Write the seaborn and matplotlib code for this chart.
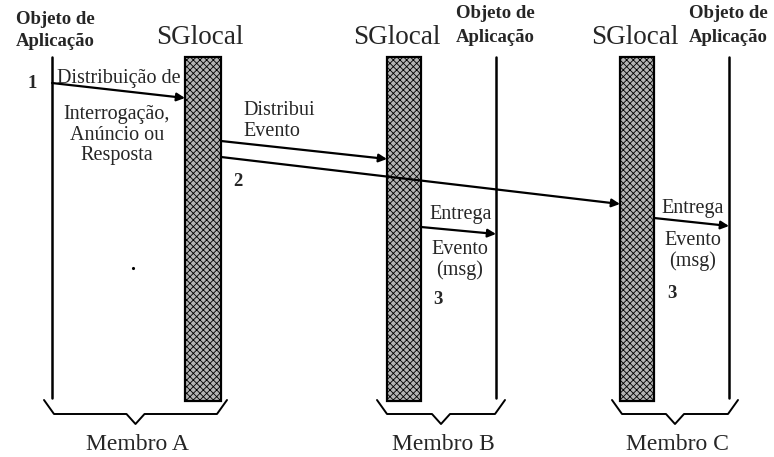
import numpy as np
import pandas as pd
import matplotlib
matplotlib.use('Agg')
import matplotlib.pyplot as plt
from matplotlib.patches import Rectangle
import seaborn as sns

# labels
members = ["Membro A", "Membro B", "Membro C"]
layer_label = "SGlocal"
app_label = ["Objeto de", "Aplicação"]
step_labels = ["1", "2", "3", "3"]
msg_labels = ["Distribuição de", "Interrogação,\nAnúncio ou\nResposta",
              "Distribui\nEvento", "Entrega", "Evento\n(msg)"]

# layout (pixel space, y grows downward)
app_x = [52, 496, 729]
bar_x = [(185, 221), (387, 421), (620, 654)]
life_top, bar_bottom, line_bottom = 57, 401, 398
brace_span = [(44, 227), (377, 505), (612, 738)]

# messages: (x0, y0, x1, y1)
msgs = [
    (52, 83, 185, 98),
    (221, 141, 387, 159),
    (221, 157, 620, 204),
    (421, 227, 496, 234),
    (654, 218, 729, 226),
]

sns.set_theme(style="white")
plt.rcParams['font.family'] = ['Liberation Serif', 'DejaVu Serif']
plt.rcParams['hatch.linewidth'] = 0.6

fig = plt.figure(figsize=(7.74, 4.57), dpi=100)
ax = fig.add_axes([0, 0, 1, 1])

# application lifelines
lines = pd.DataFrame({
    "x": [v for v in app_x for _ in range(2)],
    "y": [life_top, line_bottom] * len(app_x),
    "member": [m for m in members for _ in range(2)],
})
sns.lineplot(data=lines, x="x", y="y", units="member", estimator=None,
             sort=False, color="black", lw=1.8, ax=ax, legend=False)
ax.set_xlim(0, 774)
ax.set_ylim(457, 0)
ax.axis('off')

# SGlocal bars
for x0, x1 in bar_x:
    ax.add_patch(Rectangle((x0, life_top), x1 - x0, bar_bottom - life_top,
                           facecolor="#b4b4b4", edgecolor="black",
                           hatch="xxxxx", lw=1.6))

# messages
for x0, y0, x1, y1 in msgs:
    ax.annotate("", xy=(x1, y1), xytext=(x0, y0),
                arrowprops=dict(arrowstyle="-|>", color="black", lw=1.6,
                                mutation_scale=12, shrinkA=0, shrinkB=0))

# braces
for (bl, br), name in zip(brace_span, members):
    mid = (bl + br) / 2
    bx = [bl, bl + 10, mid - 9, mid, mid + 9, br - 10, br]
    by = [400, 414, 414, 424, 414, 414, 400]
    ax.plot(bx, by, color="black", lw=1.4)
    ax.text(mid + 2, 444, name, ha="center", va="center", fontsize=17)

# headers
bold = dict(fontweight="bold", fontsize=13.5, ha="center", va="center")
ax.text(55, 19, app_label[0], **bold)
ax.text(55, 41, app_label[1], **bold)
ax.text(495, 13, app_label[0], **bold)
ax.text(495, 38, app_label[1], **bold)
ax.text(728, 13, app_label[0], **bold)
ax.text(728, 38, app_label[1], **bold)
ax.text(200, 37, layer_label, ha="center", va="center", fontsize=19.5)
ax.text(397, 37, layer_label, ha="center", va="center", fontsize=19.5)
ax.text(635, 37, layer_label, ha="center", va="center", fontsize=19.5)

# message labels
body = dict(fontsize=14.5, va="center", linespacing=1.1)
ax.text(57, 78, msg_labels[0], ha="left", **body)
ax.text(117, 135, msg_labels[1], ha="center", **body)
ax.text(243, 121, msg_labels[2], ha="left", **body)
ax.text(429, 215, msg_labels[3], ha="left", **body)
ax.text(460, 260, msg_labels[4], ha="center", **body)
ax.text(661, 208, msg_labels[3], ha="left", **body)
ax.text(693, 251, msg_labels[4], ha="center", **body)

# step numbers
num = dict(fontweight="bold", fontsize=13.5, ha="center", va="center")
ax.text(32, 84, step_labels[0], **num)
ax.text(238, 181, step_labels[1], **num)
ax.text(438, 300, step_labels[2], **num)
ax.text(672, 293, step_labels[3], **num)

ax.plot([133], [268], marker=".", color="black", markersize=2.5)

fig.savefig("out.png", dpi=100)
plt.close('all')
